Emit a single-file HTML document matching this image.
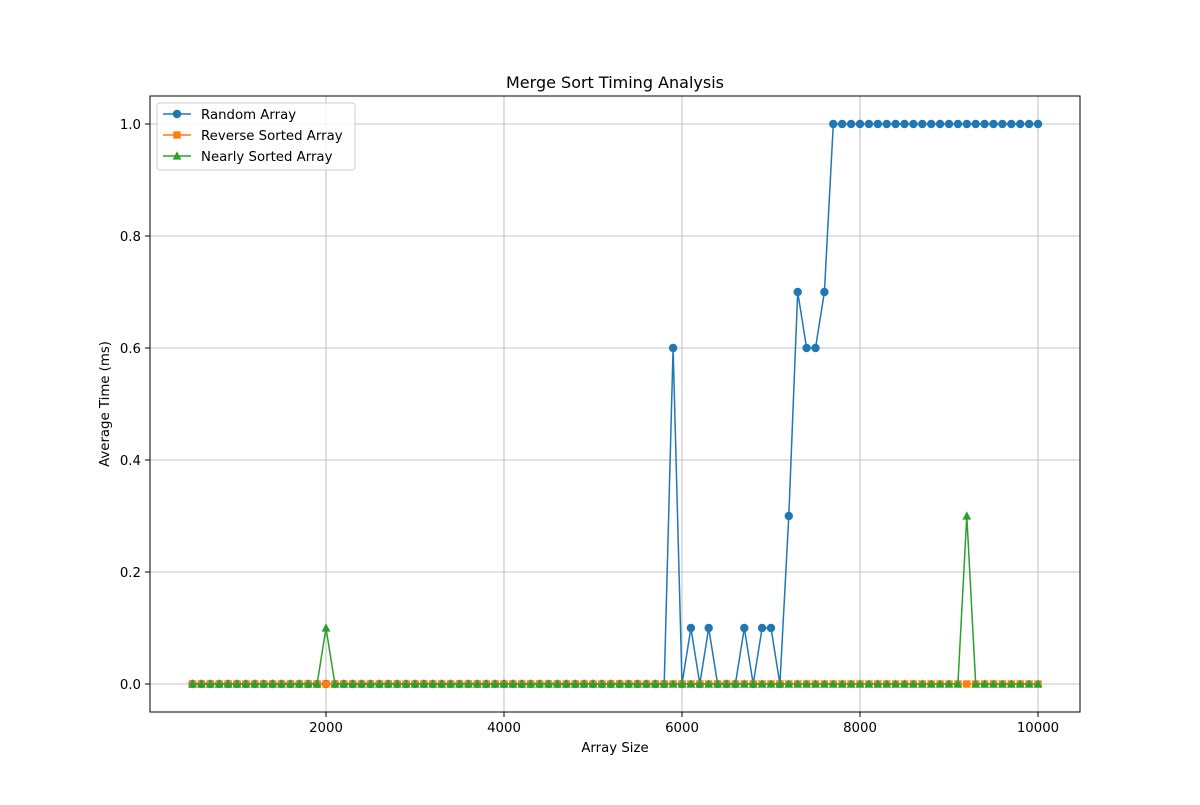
<!DOCTYPE html>
<html><head><meta charset="utf-8"><style>
html,body{margin:0;padding:0;background:#fff;}
svg text{font-family:"DejaVu Sans","Liberation Sans",sans-serif;}
</style></head><body>
<svg id="chart" width="1200" height="800" xmlns="http://www.w3.org/2000/svg">
<rect width="1200" height="800" fill="#fff"/>
<g id="grid"></g>
<g id="series"></g>
<rect x="150" y="96" width="930" height="616" fill="none" stroke="#000" stroke-width="1"/>
<g id="ticks"></g>
<text x="615" y="88" font-size="16" text-anchor="middle">Merge Sort Timing Analysis</text>
<text x="615" y="752" font-size="13.3" text-anchor="middle">Array Size</text>
<text transform="translate(109,404) rotate(-90)" font-size="13.3" text-anchor="middle">Average Time (ms)</text>
<g id="legend"></g>
</svg>
<script>
const sizes = [];
for (let s = 500; s <= 10000; s += 100) sizes.push(s);
const randomTimes = [
0,0,0,0,0,0,0,0,0,0, 0,0,0,0,0,0,0,0,0,0,
0,0,0,0,0,0,0,0,0,0, 0,0,0,0,0,0,0,0,0,0,
0,0,0,0,0,0,0,0,0,0, 0,0,0,0,
0.6,0,0.1,0,0.1,0,0,0,0.1,0,0.1,0.1,0,0.3,0.7,0.6,0.6,0.7,
1,1,1,1,1,1,1,1,1,1,1,1,1,1,1,1,1,1,1,1,1,1,1,1];
const reverseTimes = sizes.map(() => 0);
const nearlyTimes = sizes.map(s => s === 2000 ? 0.1 : (s === 9200 ? 0.3 : 0));
const xTicks = [2000, 4000, 6000, 8000, 10000];
const yTicks = [0.0, 0.2, 0.4, 0.6, 0.8, 1.0];

const NS = "http://www.w3.org/2000/svg";
const X = v => 148 + (v) * 0.089;
const Y = v => 684 - v * 560;
function mk(tag, attrs, parent) {
  const e = document.createElementNS(NS, tag);
  for (const k in attrs) e.setAttribute(k, attrs[k]);
  parent.appendChild(e);
  return e;
}
const grid = document.getElementById('grid');
const ticks = document.getElementById('ticks');
xTicks.forEach(t => {
  const g = mk('line', {x1: X(t), x2: X(t), y1: 96, y2: 712, stroke: '#b0b0b0', 'stroke-width': 0.8}, grid);
  
  
  const tk = mk('line', {x1: X(t), x2: X(t), y1: 712, y2: 717, stroke: '#000'}, ticks);
  
  
  const tx = mk('text', {x: X(t), y: 732, 'font-size': 13.3, 'text-anchor': 'middle'}, ticks);
  tx.textContent = t;
  
  
});
yTicks.forEach(t => {
  const g = mk('line', {x1: 150, x2: 1080, y1: Y(t), y2: Y(t), stroke: '#b0b0b0', 'stroke-width': 0.8}, grid);
  
  
  const tk = mk('line', {x1: 145, x2: 150, y1: Y(t), y2: Y(t), stroke: '#000'}, ticks);
  
  
  const tx = mk('text', {x: 141, y: Y(t) + 5, 'font-size': 13.3, 'text-anchor': 'end'}, ticks);
  tx.textContent = t.toFixed(1);
  
  
});
function marker(type, x, y, color, parent) {
  let e;
  if (type === 'o') e = mk('circle', {cx: x, cy: y, r: 4.2, fill: color}, parent);
  else if (type === 's') e = mk('rect', {x: x - 3.7, y: y - 3.7, width: 7.4, height: 7.4, fill: color}, parent);
  else e = mk('polygon', {points: `${x},${y-4.8} ${x-4.4},${y+3.6} ${x+4.4},${y+3.6}`, fill: color}, parent);
  return e;
}
const seriesG = document.getElementById('series');
const defs = [
  {vals: randomTimes, color: '#1f77b4', m: 'o', name: 'random-array', label: 'Random Array'},
  {vals: reverseTimes, color: '#ff7f0e', m: 's', name: 'reverse-sorted-array', label: 'Reverse Sorted Array'},
  {vals: nearlyTimes, color: '#2ca02c', m: '^', name: 'nearly-sorted-array', label: 'Nearly Sorted Array'}
];
defs.forEach(d => {
  const g = mk('g', {}, seriesG);
  
  
  const pts = sizes.map((s, i) => X(s) + ',' + Y(d.vals[i])).join(' ');
  const l = mk('polyline', {points: pts, fill: 'none', stroke: d.color, 'stroke-width': 1.5}, g);
  
  
  sizes.forEach((s, i) => {
    const p = marker(d.m, X(s), Y(d.vals[i]), d.color, g);
    
    
  });
});
const leg = document.getElementById('legend');
const box = mk('rect', {x: 157, y: 103, width: 198, height: 67, rx: 3, fill: '#fff', 'fill-opacity': 0.8, stroke: '#ccc'}, leg);


defs.forEach((d, i) => {
  const y = 114 + i * 21;
  const g = mk('g', {}, leg);
  
  
  mk('line', {x1: 163, x2: 191, y1: y, y2: y, stroke: d.color, 'stroke-width': 1.5}, g);
  marker(d.m, 177, y, d.color, g);
  const t = mk('text', {x: 201, y: y + 5, 'font-size': 13.3}, g);
  t.textContent = d.label;
});
</script>
</body></html>
